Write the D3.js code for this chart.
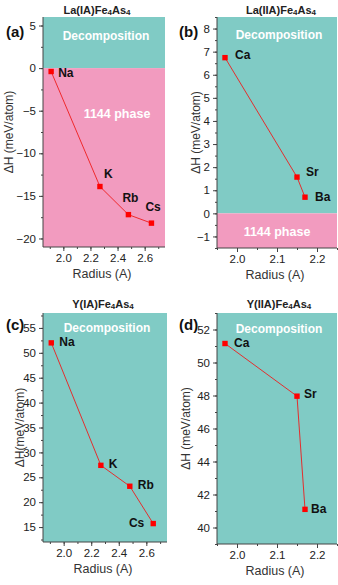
<!DOCTYPE html>
<html>
<head>
<meta charset="utf-8">
<script src="https://cdn.jsdelivr.net/npm/d3@7"></script>
<style>
  body { margin: 0; background: #fff; }
  svg { display: block; font-family: "Liberation Sans", Arial, sans-serif; }
</style>
</head>
<body>
<div id="vis"></div>
<script>
// data
const namesIA = ['Na', 'K', 'Rb', 'Cs'];
const radiusIA = [1.91, 2.27, 2.48, 2.65];
const namesIIA = ['Ca', 'Sr', 'Ba'];
const radiusIIA = [1.97, 2.15, 2.17];

const dhLaIA = [-0.4, -13.9, -17.2, -18.2];
const dhLaIIA = [6.74, 1.57, 0.70];
const dhYIA = [52.0, 27.4, 23.2, 15.7];
const dhYIIA = [51.15, 47.96, 41.1];

const ticksA = [-20, -15, -10, -5, 0, 5];
const ticksB = [-1, 0, 1, 2, 3, 4, 5, 6, 7, 8];
const ticksC = [15, 20, 25, 30, 35, 40, 45, 50, 55];
const ticksD = [40, 42, 44, 46, 48, 50, 52];
const xTicksIA = [2.0, 2.2, 2.4, 2.6];
const xTicksIIA = [2.0, 2.1, 2.2];

const teal = '#80cbc5';
const pink = '#f29bbf';

const svg = d3.select('#vis').append('svg')
  .attr('width', 338)
  .attr('height', 585);

// layout per panel (pixel box + domains)
const panels = [
  {tag: '(a)', host: 'La', grp: 'IA', names: namesIA, xs: radiusIA, ys: dhLaIA,
   box: [43, 165, 17, 247], xDom: [1.85, 2.75], yDom: [-21, 6],
   yTicks: ticksA, yMinor: 2.5, xTicks: xTicksIA, xMinor: 0.1, split: true,
   ylab: 'ΔH (meV/atom)',
   tagPos: [6, 37], titleX: 97, titleY: 11, ylabX: 13,
   decoY: 40, phaseX: 117, phaseY: 118,
   offs: [[7, 2, 'start'], [4, -12, 'start'], [-6, -16, 'start'], [-6, -15, 'start']]},
  {tag: '(b)', host: 'La', grp: 'IIA', names: namesIIA, xs: radiusIIA, ys: dhLaIIA,
   box: [217, 337, 17, 248], xDom: [1.95, 2.25], yDom: [-1.5, 8.5],
   yTicks: ticksB, yMinor: 0.5, xTicks: xTicksIIA, xMinor: 0.05, split: true,
   ylab: 'ΔH (meV/atom)',
   tagPos: [179, 37], titleX: 281, titleY: 11, ylabX: 200,
   decoY: 39, phaseX: 277, phaseY: 236,
   offs: [[10, -2, 'start'], [9, -4, 'start'], [10, 1, 'start']]},
  {tag: '(c)', host: 'Y', grp: 'IA', names: namesIA, xs: radiusIA, ys: dhYIA,
   box: [43, 167, 313, 542], xDom: [1.85, 2.75], yDom: [12, 58],
   yTicks: ticksC, yMinor: 2.5, xTicks: xTicksIA, xMinor: 0.1, split: false,
   ylab: 'ΔH(meV/atom)',
   tagPos: [6, 330], titleX: 103, titleY: 305, ylabX: 24,
   decoY: 332,
   offs: [[8, 0, 'start'], [8, -1, 'start'], [8, 0, 'start'], [-9, 0, 'end']]},
  {tag: '(d)', host: 'Y', grp: 'IIA', names: namesIIA, xs: radiusIIA, ys: dhYIIA,
   box: [217, 337, 313, 544], xDom: [1.95, 2.25], yDom: [39, 53],
   yTicks: ticksD, yMinor: 1, xTicks: xTicksIIA, xMinor: 0.05, split: false,
   ylab: 'ΔH (meV/atom)',
   tagPos: [179, 330], titleX: 279, titleY: 305, ylabX: 190,
   decoY: 333,
   offs: [[9, 0, 'start'], [7, -1, 'start'], [6, 0, 'start']]}
];

panels.forEach(p => {
  const [x0, x1, y0, y1] = p.box;
  const x = d3.scaleLinear().domain(p.xDom).range([x0, x1]);
  const y = d3.scaleLinear().domain(p.yDom).range([y1, y0]);
  const g = svg.append('g');

  // background regions
  const zeroY = p.split ? y(0) : y1;
  g.append('rect').attr('x', x0).attr('y', y0)
    .attr('width', x1 - x0).attr('height', zeroY - y0).attr('fill', teal);
  if (p.split) {
    g.append('rect').attr('x', x0).attr('y', zeroY)
      .attr('width', x1 - x0).attr('height', y1 - zeroY).attr('fill', pink);
  }

  g.append('text').attr('x', (x0 + x1) / 2 + 2).attr('y', p.decoY)
    .attr('text-anchor', 'middle').attr('fill', '#fff')
    .attr('font-weight', 'bold').attr('font-size', 12)
    .text('Decomposition');
  if (p.split) {
    g.append('text').attr('x', p.phaseX).attr('y', p.phaseY)
      .attr('text-anchor', 'middle').attr('fill', '#fff')
      .attr('font-weight', 'bold').attr('font-size', 12.5)
      .text('1144 phase');
  }

  // axes with minor ticks
  const yMinorVals = d3.range(Math.ceil(p.yDom[0] / p.yMinor) * p.yMinor, p.yDom[1] + 1e-9, p.yMinor);
  const xMinorVals = d3.range(Math.ceil(p.xDom[0] / p.xMinor) * p.xMinor, p.xDom[1] + 1e-9, p.xMinor);

  const yAx = g.append('g').attr('transform', `translate(${x0},0)`);
  yAx.call(d3.axisLeft(y).tickValues(yMinorVals).tickSize(2).tickFormat(''));
  yAx.append('g').call(d3.axisLeft(y).tickValues(p.yTicks).tickSize(4).tickPadding(3)
      .tickFormat(d3.format('d')));
  const xAx = g.append('g').attr('transform', `translate(0,${y1})`);
  xAx.call(d3.axisBottom(x).tickValues(xMinorVals).tickSize(2).tickFormat(''));
  xAx.append('g').call(d3.axisBottom(x).tickValues(p.xTicks).tickSize(4).tickPadding(3)
      .tickFormat(d3.format('.1f')));
  // plain axis lines without end caps
  g.selectAll('.domain').remove();
  g.append('line').attr('x1', x0).attr('x2', x0).attr('y1', y0).attr('y2', y1).attr('stroke', '#444');
  g.append('line').attr('x1', x0).attr('x2', x1).attr('y1', y1).attr('y2', y1).attr('stroke', '#444');
  g.selectAll('.tick line').attr('stroke', '#444');
  g.selectAll('.tick text').attr('font-size', 11.5).attr('fill', '#222')
    .attr('font-family', '"Liberation Sans", Arial, sans-serif');

  // titles and labels
  const title = g.append('text').attr('x', p.titleX).attr('y', p.titleY)
    .attr('text-anchor', 'middle').attr('font-weight', 'bold').attr('font-size', 11)
    .attr('dominant-baseline', 'middle').attr('fill', '#222');
  title.append('tspan').text(`${p.host}(${p.grp})Fe`);
  title.append('tspan').attr('font-size', 8).attr('dy', 1.5).text('4');
  title.append('tspan').attr('dy', -1.5).text('As');
  title.append('tspan').attr('font-size', 8).attr('dy', 1.5).text('4');

  g.append('text').attr('x', p.tagPos[0]).attr('y', p.tagPos[1])
    .attr('font-weight', 'bold').attr('font-size', 15).attr('fill', '#111').text(p.tag);

  g.append('text').attr('transform', `translate(${p.ylabX},${(y0 + y1) / 2}) rotate(-90)`)
    .attr('text-anchor', 'middle').attr('font-size', 12).attr('fill', '#333')
    .text(p.ylab);
  g.append('text').attr('x', (x0 + x1) / 2 - 2).attr('y', y1 + 31)
    .attr('text-anchor', 'middle').attr('font-size', 12.5).attr('fill', '#333')
    .text('Radius (A)');

  // series
  const pts = p.xs.map((r, i) => [r, p.ys[i]]);
  const line = d3.line().x(d => x(d[0])).y(d => y(d[1]));
  g.append('path').attr('d', line(pts)).attr('fill', 'none')
    .attr('stroke', '#ee1c1c').attr('stroke-width', 0.9);
  g.selectAll('rect.pt').data(pts).enter().append('rect').attr('class', 'pt')
    .attr('x', d => x(d[0]) - 2.7).attr('y', d => y(d[1]) - 2.7)
    .attr('width', 5.4).attr('height', 5.4).attr('fill', '#ff0000');
  g.selectAll('text.lbl').data(pts).enter().append('text').attr('class', 'lbl')
    .attr('x', (d, i) => x(d[0]) + p.offs[i][0])
    .attr('y', (d, i) => y(d[1]) + p.offs[i][1])
    .attr('dominant-baseline', 'middle')
    .attr('text-anchor', (d, i) => p.offs[i][2])
    .attr('font-weight', 'bold').attr('font-size', 12).attr('fill', '#111')
    .text((d, i) => p.names[i]);
});
</script>
</body>
</html>
